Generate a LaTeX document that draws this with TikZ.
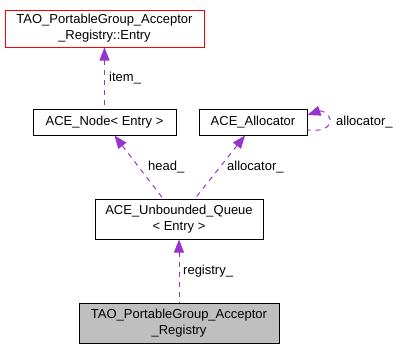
\documentclass[tikz,border=0pt]{standalone}
\usepackage{fontspec}
\setmainfont{Liberation Sans}
\usepackage{tikz}
\usetikzlibrary{arrows.meta,positioning,calc}
\definecolor{edgePurple}{RGB}{154,50,205}
\definecolor{boxGray}{RGB}{191,191,191}

\begin{document}
\begin{tikzpicture}[x=1pt,y=-1pt,
    box/.style={draw=black, line width=1pt, fill=white, inner sep=0pt, align=center,
      font=\fontsize{13}{16}\selectfont},
    edge/.style={edgePurple, line width=1pt, dash pattern=on 5pt off 5pt,
      {Triangle[length=13pt,width=10pt]}-},
    lbl/.style={anchor=west, inner sep=0pt, font=\fontsize{13}{16}\selectfont}]
    \useasboundingbox (0,0) rectangle (399,349);
    % Classes
    \node[box, draw=red, minimum width=199pt, minimum height=37pt] (entry) at (104.5,28.5)
      {TAO\_PortableGroup\_Acceptor\\\_Registry::Entry};
    \node[box, minimum width=143pt, minimum height=26pt] (acenode) at (104.5,122)
      {ACE\_Node< Entry >};
    \node[box, minimum width=108pt, minimum height=26pt] (alloc) at (253,122)
      {ACE\_Allocator};
    \node[box, minimum width=168pt, minimum height=40pt] (queue) at (179,219)
      {ACE\_Unbounded\_Queue\\< Entry >};
    \node[box, fill=boxGray, minimum width=200pt, minimum height=40pt] (registry) at (179,323)
      {TAO\_PortableGroup\_Acceptor\\\_Registry};
    % Members
    \draw[edge] (entry.south) -- (acenode.north);
    \draw[edge] ($(acenode.south)+(10,0)$) -- ($(queue.north)+(-16,0)$);
    \draw[edge] ($(alloc.south)+(-8,0)$) -- ($(queue.north)+(16,0)$);
    \draw[edge] ($(alloc.east)+(0,-7)$) .. controls (322,110) and (332,116) .. (330,122)
      .. controls (328,130) and (318,131) .. ($(alloc.east)+(0,8)$);
    \draw[edge] (queue.south) -- (registry.north);
    % Labels
    \node[lbl] (itemlbl) at (109,78) {item\_};
    \node[lbl] (headlbl) at (148,167) {head\_};
    \node[lbl] (alloclbl) at (227,167) {allocator\_};
    \node[lbl] (selflbl) at (336,122) {allocator\_};
    \node[lbl] (reglbl) at (183,271) {registry\_};
\end{tikzpicture}
\end{document}
